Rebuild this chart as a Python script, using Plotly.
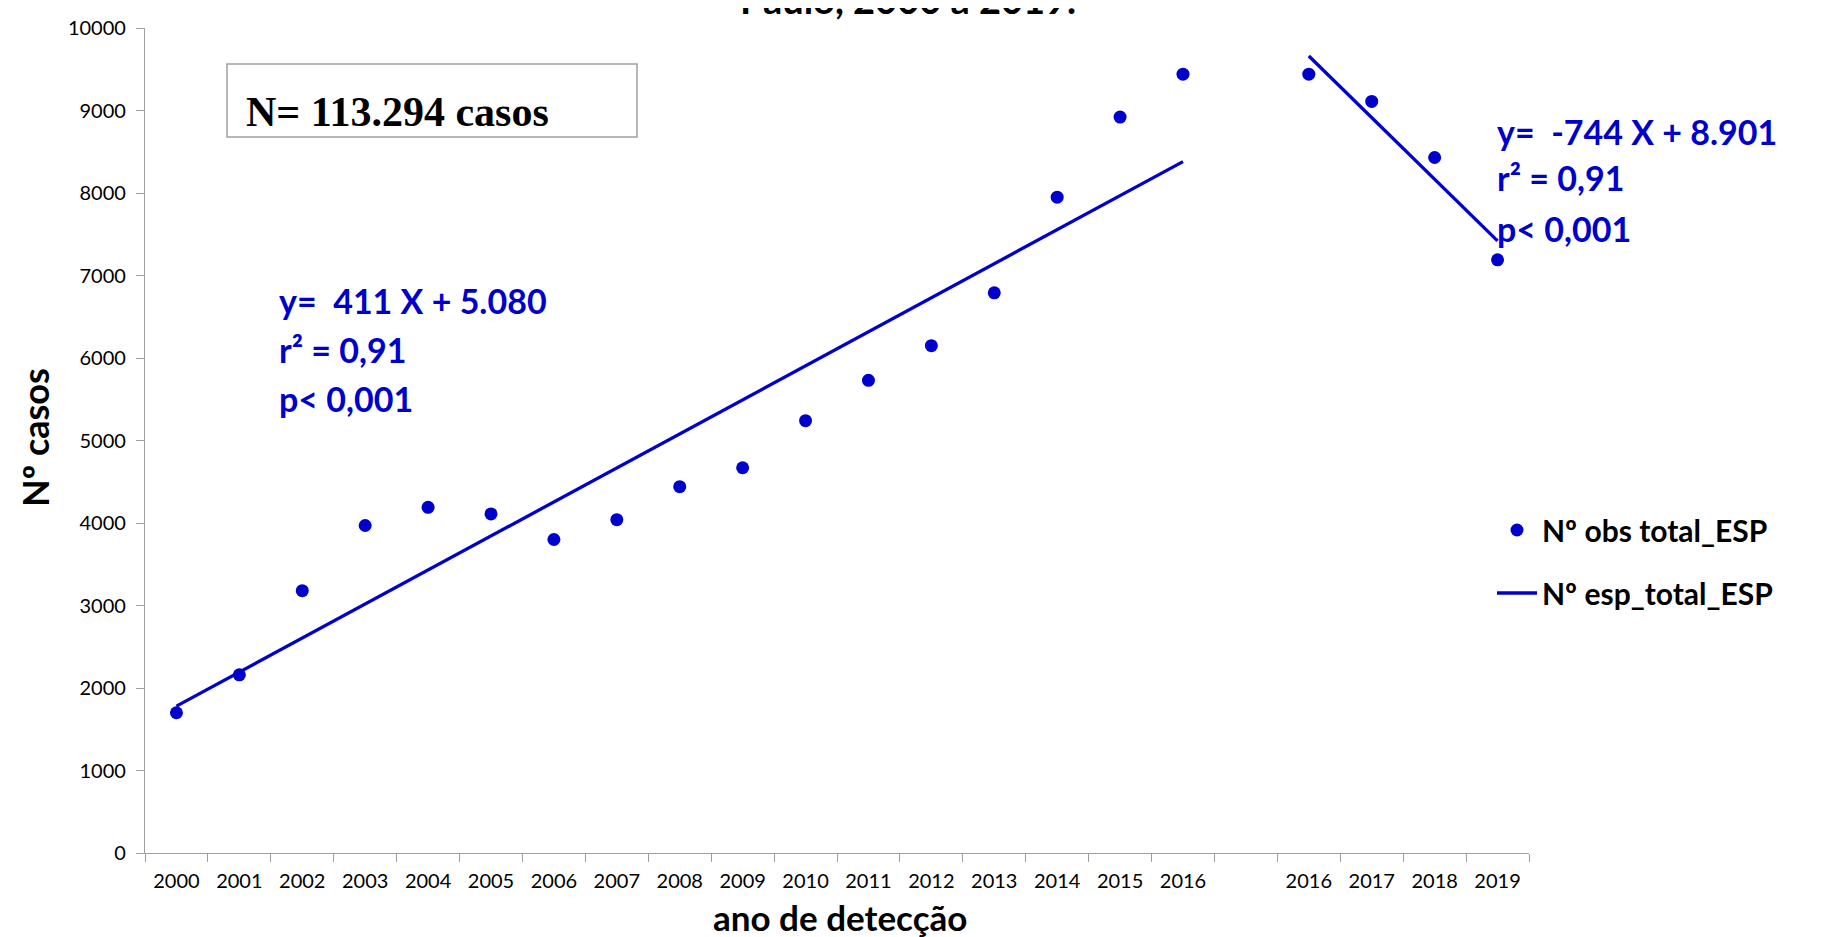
import plotly.graph_objects as go

# Categories (x positions by index; index 17 is an empty gap)
tick_labels = ["2000", "2001", "2002", "2003", "2004", "2005", "2006", "2007", "2008",
               "2009", "2010", "2011", "2012", "2013", "2014", "2015", "2016", "",
               "2016", "2017", "2018", "2019"]

# Observed cases (first period 2000-2016, second period 2016-2019)
obs_idx_1 = list(range(0, 17))
obs_val_1 = [1700, 2160, 3180, 3970, 4190, 4110, 3800, 4040, 4440,
             4670, 5240, 5730, 6150, 6790, 7950, 8920, 9440]
obs_idx_2 = [18, 19, 20, 21]
obs_val_2 = [9440, 9110, 8430, 7190]

# Expected (fitted trend) line endpoints
esp_idx_1 = [0, 16]
esp_val_1 = [1780, 8380]
esp_idx_2 = [18, 21]
esp_val_2 = [9660, 7420]

BLUE = "#0000CC"
FONT = "Lato"

# plot area in pixels
L, R, T, B = 137, 1521, 20, 845
W, H = R - L, B - T


def px(x):
    return (x - L) / W


def py(y):
    return (B - y) / H


fig = go.Figure()
fig.add_trace(go.Scatter(x=obs_idx_1 + obs_idx_2, y=obs_val_1 + obs_val_2, mode="markers",
                         marker=dict(color=BLUE, size=13), name="Nº obs total_ESP",
                         legendgroup="a"))
fig.add_trace(go.Scatter(x=esp_idx_1, y=esp_val_1, mode="lines",
                         line=dict(color=BLUE, width=3.3), name="Nº esp_total_ESP",
                         legendgroup="b"))
fig.add_trace(go.Scatter(x=esp_idx_2, y=esp_val_2, mode="lines",
                         line=dict(color=BLUE, width=3.3), name="Nº esp_total_ESP",
                         legendgroup="b", showlegend=False))

tv = [i for i, t in enumerate(tick_labels) if t]
tt = [t for t in tick_labels if t]

fig.update_layout(
    width=1825, height=937,
    margin=dict(l=L, r=1825 - R, t=T, b=937 - B, autoexpand=False),
    paper_bgcolor="white", plot_bgcolor="white",
    font=dict(family=FONT, color="black"),
    showlegend=True,
    legend=dict(x=px(1484), y=py(496), xanchor="left", yanchor="top",
                font=dict(family=FONT, size=30, color="black", weight="bold"),
                itemwidth=40, traceorder="grouped", tracegroupgap=21,
                bgcolor="rgba(0,0,0,0)"),
    xaxis=dict(range=[-0.5, 21.5], tickmode="array", tickvals=tv, ticktext=tt,
               ticks="", showgrid=False, zeroline=False, ticklabelstandoff=10,
               showline=True, linecolor="#A0A0A0", linewidth=1.2,
               tickfont=dict(family=FONT, size=20, color="black"),
               minor=dict(ticks="outside", tick0=-0.5, dtick=1, ticklen=8,
                          tickcolor="#A0A0A0", showgrid=False)),
    yaxis=dict(range=[0, 10000], dtick=1000, tickformat="d", ticks="outside", ticklen=8,
               tickcolor="#A0A0A0", showgrid=False, zeroline=False, ticklabelstandoff=6,
               showline=True, linecolor="#A0A0A0", linewidth=1.2,
               tickfont=dict(family=FONT, size=20, color="black")),
)

# Axis titles
fig.add_annotation(text="<b>ano de detecção</b>", xref="paper", yref="paper",
                   x=px(832), y=py(909), xanchor="center", yanchor="middle",
                   showarrow=False, font=dict(family=FONT, size=35, color="black"))
fig.add_annotation(text="<b>Nº casos</b>", xref="paper", yref="paper",
                   x=px(27), y=py(430), xanchor="center", yanchor="middle", textangle=-90,
                   showarrow=False, font=dict(family=FONT, size=36, color="black"))

# Partially visible title (cut at the top of the image)
fig.add_annotation(text="<b>Paulo, 2000 a 2019.</b>", xref="paper", yref="paper",
                   x=px(900), y=py(16), xanchor="center", yanchor="bottom",
                   showarrow=False, font=dict(family=FONT, size=38, color="black"))

# N box
fig.add_shape(type="rect", xref="paper", yref="paper",
              x0=px(219), x1=px(629), y0=py(129), y1=py(56),
              line=dict(color="#A0A0A0", width=1.5), fillcolor="white")
fig.add_annotation(text="<b>N= 113.294 casos</b>", xref="paper", yref="paper",
                   x=px(236), y=py(104), xanchor="left", yanchor="middle",
                   showarrow=False,
                   font=dict(family="Liberation Serif", size=42, color="black"))

# Regression texts
for txt, tx, ty in [("y=  411 X + 5.080", 269, 292), ("r² = 0,91", 269, 342),
                    ("p< 0,001", 269, 390),
                    ("y=  -744 X + 8.901", 1487, 123), ("r² = 0,91", 1487, 170),
                    ("p< 0,001", 1487, 220)]:
    fig.add_annotation(text="<b>" + txt + "</b>", xref="paper", yref="paper",
                       x=px(tx), y=py(ty), xanchor="left", yanchor="middle",
                       showarrow=False, font=dict(family=FONT, size=34, color=BLUE))

fig.write_html("out.html")
